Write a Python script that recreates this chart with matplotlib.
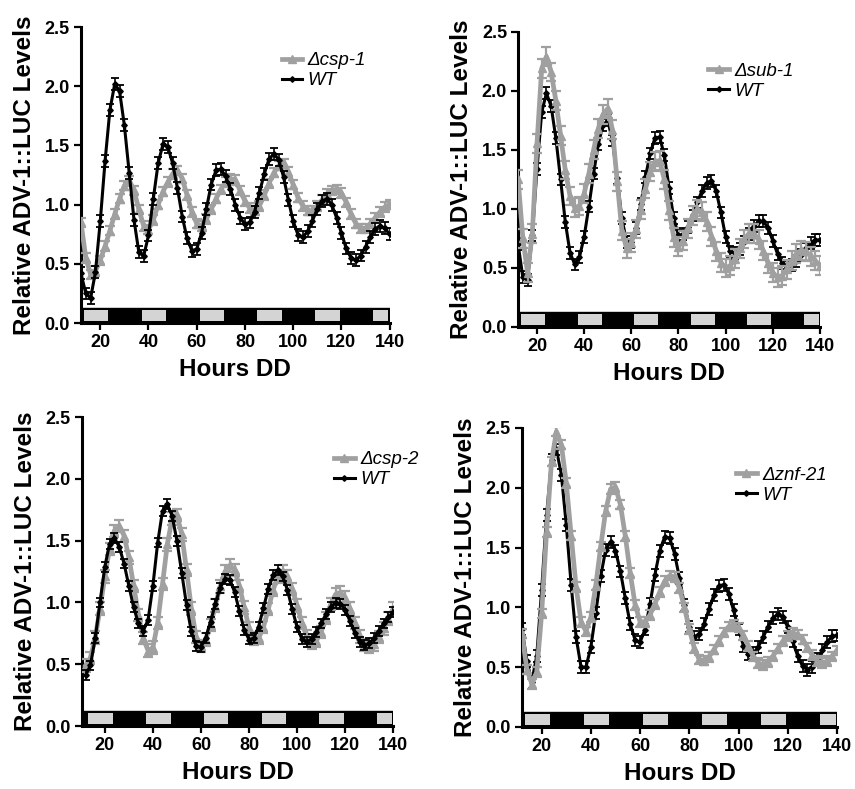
import matplotlib
matplotlib.use("Agg")
import matplotlib.pyplot as plt
from matplotlib.patches import Rectangle

plt.rcParams['font.family'] = ['Liberation Sans', 'DejaVu Sans']

# sampling times (hours in constant darkness)
hours = list(range(12, 141, 2))

# light / dark schedule of the bar at the bottom
light_on = [12, 36, 60, 84, 108, 132]
light_off = [24, 48, 72, 96, 120, 144]

# panel A: csp-1
wt_a = [0.42, 0.25, 0.21, 0.43, 0.86, 1.37, 1.80, 2.02, 1.96, 1.67, 1.27, 0.87, 0.60, 0.565,
        0.74, 1.05, 1.35, 1.51, 1.49, 1.35, 1.14, 0.90, 0.715, 0.61, 0.625, 0.76, 0.965, 1.17,
        1.29, 1.30, 1.24, 1.13, 1.00, 0.89, 0.835, 0.85, 0.94, 1.10, 1.26, 1.385, 1.43, 1.38,
        1.235, 1.04, 0.86, 0.745, 0.725, 0.775, 0.865, 0.965, 1.03, 1.05, 1.00, 0.89, 0.76,
        0.63, 0.55, 0.53, 0.57, 0.645, 0.73, 0.795, 0.82, 0.80, 0.75]
csp1 = [0.85, 0.55, 0.41, 0.44, 0.53, 0.65, 0.78, 0.92, 1.05, 1.16, 1.20, 1.12, 0.96, 0.82,
        0.79, 0.87, 1.00, 1.11, 1.19, 1.26, 1.29, 1.22, 1.08, 0.94, 0.84, 0.82, 0.88, 0.96,
        1.05, 1.13, 1.19, 1.22, 1.21, 1.12, 1.03, 0.97, 0.95, 0.99, 1.08, 1.18, 1.27, 1.33,
        1.35, 1.28, 1.17, 1.06, 0.99, 0.95, 0.95, 0.99, 1.04, 1.09, 1.12, 1.13, 1.10, 1.02,
        0.92, 0.84, 0.80, 0.80, 0.84, 0.89, 0.94, 0.98, 1.00]

# panel B: sub-1
wt_b = [0.70, 0.42, 0.40, 0.775, 1.34, 1.82, 1.98, 1.87, 1.60, 1.25, 0.89, 0.63, 0.53, 0.59,
        0.765, 1.02, 1.30, 1.55, 1.71, 1.75, 1.58, 1.26, 0.92, 0.72, 0.72, 0.84, 1.04, 1.27,
        1.47, 1.60, 1.61, 1.455, 1.18, 0.92, 0.775, 0.785, 0.85, 0.945, 1.055, 1.155, 1.22,
        1.24, 1.15, 0.97, 0.765, 0.64, 0.625, 0.66, 0.72, 0.79, 0.855, 0.895, 0.895, 0.84,
        0.73, 0.62, 0.54, 0.51, 0.525, 0.56, 0.61, 0.665, 0.71, 0.735, 0.74]
sub1 = [1.25, 0.75, 0.46, 0.79, 1.555, 2.19, 2.29, 2.16, 1.915, 1.62, 1.33, 1.11, 1.01, 1.025,
        1.13, 1.30, 1.50, 1.68, 1.80, 1.85, 1.67, 1.235, 0.815, 0.665, 0.715, 0.83, 0.995, 1.17,
        1.315, 1.40, 1.41, 1.25, 0.99, 0.76, 0.68, 0.73, 0.837, 0.945, 0.998, 0.975, 0.89, 0.77,
        0.64, 0.545, 0.50, 0.52, 0.58, 0.665, 0.745, 0.795, 0.79, 0.74, 0.645, 0.54, 0.46,
        0.42, 0.435, 0.49, 0.56, 0.62, 0.65, 0.64, 0.60, 0.56, 0.52]

# panel C: csp-2
wt_c = [0.41, 0.49, 0.71, 1.00, 1.29, 1.475, 1.52, 1.45, 1.315, 1.135, 0.96, 0.83, 0.77, 0.86,
        1.135, 1.485, 1.74, 1.795, 1.70, 1.50, 1.24, 0.98, 0.765, 0.645, 0.64, 0.715, 0.845,
        0.99, 1.12, 1.19, 1.185, 1.085, 0.93, 0.78, 0.70, 0.71, 0.805, 0.955, 1.11, 1.22, 1.26,
        1.21, 1.10, 0.945, 0.80, 0.705, 0.68, 0.705, 0.76, 0.83, 0.905, 0.965, 0.995, 0.99,
        0.94, 0.85, 0.755, 0.68, 0.655, 0.67, 0.71, 0.77, 0.83, 0.88, 0.92]
csp2 = [0.49, 0.55, 0.715, 0.95, 1.21, 1.435, 1.58, 1.62, 1.54, 1.365, 1.135, 0.90, 0.71, 0.61,
        0.635, 0.835, 1.15, 1.47, 1.68, 1.71, 1.55, 1.265, 0.95, 0.72, 0.65, 0.70, 0.82, 0.975,
        1.13, 1.25, 1.30, 1.26, 1.135, 0.96, 0.795, 0.705, 0.71, 0.80, 0.945, 1.10, 1.21, 1.25,
        1.21, 1.11, 0.975, 0.835, 0.725, 0.67, 0.69, 0.76, 0.875, 0.985, 1.065, 1.08, 1.04,
        0.95, 0.835, 0.725, 0.655, 0.64, 0.66, 0.72, 0.79, 0.87, 0.95]

# panel D: znf-21
wt_d = [0.82, 0.55, 0.38, 0.595, 1.145, 1.77, 2.23, 2.32, 2.11, 1.69, 1.185, 0.75, 0.50, 0.50,
        0.67, 0.955, 1.26, 1.48, 1.55, 1.475, 1.30, 1.075, 0.86, 0.725, 0.71, 0.815, 1.025,
        1.27, 1.475, 1.59, 1.58, 1.45, 1.245, 1.02, 0.84, 0.755, 0.775, 0.86, 0.985, 1.105,
        1.18, 1.19, 1.115, 0.975, 0.815, 0.68, 0.61, 0.615, 0.67, 0.75, 0.84, 0.91, 0.945,
        0.92, 0.835, 0.715, 0.595, 0.51, 0.48, 0.505, 0.565, 0.64, 0.71, 0.758, 0.765]
znf21 = [0.78, 0.48, 0.36, 0.46, 0.95, 1.63, 2.22, 2.47, 2.36, 2.04, 1.60, 1.17, 0.88, 0.80,
         0.92, 1.185, 1.51, 1.805, 1.99, 2.005, 1.86, 1.595, 1.285, 1.02, 0.88, 0.88, 0.935,
         1.03, 1.13, 1.22, 1.265, 1.255, 1.16, 1.00, 0.82, 0.66, 0.565, 0.555, 0.587, 0.646,
         0.72, 0.79, 0.84, 0.855, 0.83, 0.765, 0.675, 0.59, 0.535, 0.52, 0.545, 0.594, 0.655,
         0.717, 0.763, 0.785, 0.773, 0.73, 0.665, 0.60, 0.55, 0.535, 0.55, 0.59, 0.64]

# standard errors
err_wt = [0.05, 0.05, 0.04, 0.05]
err_mut = [0.04, 0.08, 0.05, 0.04]

GRAY = '#a0a0a0'


def drawPanel(ax, wt, mut, mut_label, e_wt, e_mut, xmin, leg_xy, gray_top):
    # light/dark bar
    ax.add_patch(Rectangle((xmin, 0.0), 140 - xmin, 0.125, facecolor='black',
                           edgecolor='black', linewidth=1, zorder=2))
    for i in range(len(light_on)):
        left = light_on[i] + 1.2
        right = min(light_off[i] - 0.6, 139.5)
        ax.add_patch(Rectangle((left, 0.014), right - left, 0.094, facecolor='#d4d4d4',
                               edgecolor='none', zorder=3))
    zg = 6 if gray_top else 4
    zb = 4 if gray_top else 6
    ax.errorbar(hours, mut, yerr=e_mut, fmt='none', ecolor=GRAY, elinewidth=1.6,
                capsize=3.5, capthick=1.6, zorder=zg)
    ax.plot(hours, mut, '-^', color=GRAY, linewidth=3.4, markersize=6, label=mut_label, zorder=zg)
    ax.errorbar(hours, wt, yerr=e_wt, fmt='none', ecolor='black', elinewidth=1.2,
                capsize=3, capthick=1.3, zorder=zb)
    ax.plot(hours, wt, '-D', color='black', linewidth=2.2, markersize=2.8, label='WT', zorder=zb)

    ax.set_xlim(xmin, 140)
    ax.set_ylim(0, 2.5)
    ax.set_xticks([20, 40, 60, 80, 100, 120, 140])
    ax.set_yticks([0.0, 0.5, 1.0, 1.5, 2.0, 2.5])
    ax.set_yticklabels(['0.0', '0.5', '1.0', '1.5', '2.0', '2.5'])
    for s in ['top', 'right']:
        ax.spines[s].set_visible(False)
    for s in ['left', 'bottom']:
        ax.spines[s].set_linewidth(2.2)
    ax.tick_params(direction='out', length=5, width=1.6, labelsize=13, pad=3)
    for lab in ax.get_xticklabels() + ax.get_yticklabels():
        lab.set_fontweight('bold')
    ax.set_xlabel('Hours DD', fontsize=17.5, fontweight='bold', labelpad=5)
    ax.set_ylabel('Relative ADV-1::LUC Levels', fontsize=17.5, fontweight='bold', labelpad=6)
    ax.legend(loc='upper left', bbox_to_anchor=leg_xy, frameon=False, handlelength=1.1,
              handletextpad=0.3, borderpad=0, borderaxespad=0, labelspacing=0.15,
              prop={'size': 13.5, 'style': 'italic'})


fig = plt.figure(figsize=(8.55, 7.89), dpi=100)
ax1 = fig.add_axes([0.0947, 0.5906, 0.361, 0.375])
ax2 = fig.add_axes([0.606, 0.5856, 0.353, 0.374])
ax3 = fig.add_axes([0.0959, 0.0798, 0.364, 0.3916])
ax4 = fig.add_axes([0.6105, 0.0786, 0.3684, 0.379])

drawPanel(ax1, wt_a, csp1, '\u0394csp-1', err_wt[0], err_mut[0], 12, (0.65, 0.915), False)
drawPanel(ax2, wt_b, sub1, '\u0394sub-1', err_wt[1], err_mut[1], 12, (0.63, 0.895), True)
drawPanel(ax3, wt_c, csp2, '\u0394csp-2', err_wt[2], err_mut[2], 10.5, (0.81, 0.89), False)
drawPanel(ax4, wt_d, znf21, '\u0394znf-21', err_wt[3], err_mut[3], 12, (0.68, 0.87), True)

fig.savefig('out.png', dpi=100)
